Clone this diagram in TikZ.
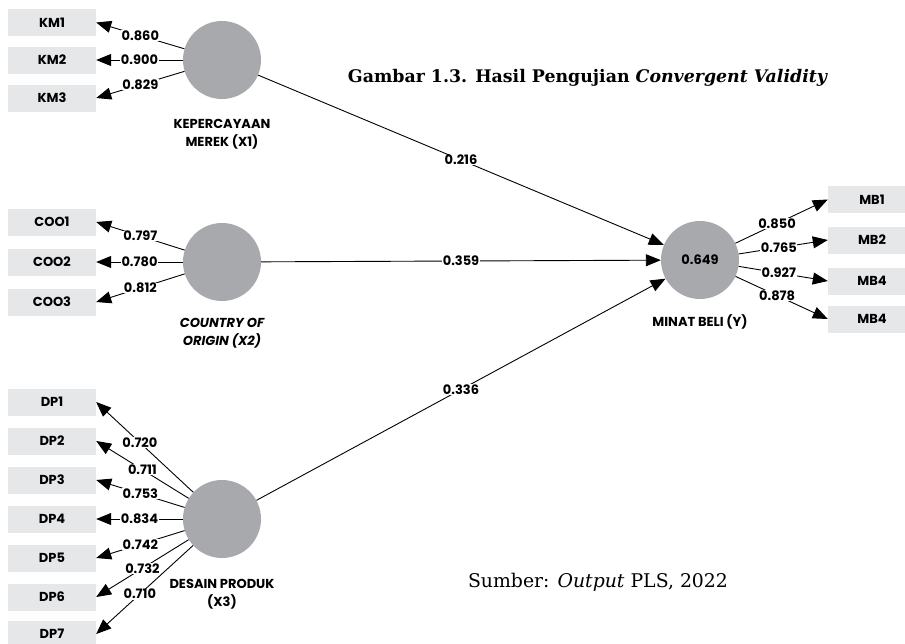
\documentclass[tikz,border=0pt]{standalone}
\usepackage{fontspec}
\usepackage{graphicx}
\setmainfont{DejaVu Serif}
\newfontfamily\lblfont{Poppins}
\usetikzlibrary{arrows.meta}
\definecolor{boxgray}{HTML}{E6E7E8}
\definecolor{circgray}{HTML}{A7A9AC}
\begin{document}
\begin{tikzpicture}[x=1pt,y=-1pt,
  ind/.style={rectangle, fill=boxgray, minimum width=88pt, minimum height=27pt, inner sep=0pt, font=\lblfont\bfseries\fontsize{13}{15}\selectfont},
  lat/.style={circle, fill=circgray, minimum size=78pt, inner sep=0pt, font=\lblfont\bfseries\fontsize{13}{15}\selectfont},
  ld/.style={fill=white, inner sep=0.5pt, font=\lblfont\bfseries\fontsize{13}{15}\selectfont},
  captxt/.style={align=center, font=\lblfont\bfseries\fontsize{13}{18}\selectfont},
  arr/.style={draw, line width=0.9pt, -{Triangle[length=15pt,width=12pt]}}]
\useasboundingbox (0,0) rectangle (905,643);
\clip (0,0) rectangle (905,643);
\fill[white] (0,0) rectangle (905,643);
% latent variables
\node[lat] (KM) at (222,60) {};
\node[lat] (COO) at (222,262) {};
\node[lat] (DP) at (222,519) {};
\node[lat] (MB) at (700,260) {0.649};
% captions
\node[captxt] (capKM) at (222,134) {KEPERCAYAAN\\MEREK (X1)};
\node[captxt] (capCOO) at (222,333) {\itshape COUNTRY OF\\\itshape ORIGIN (X2)};
\node[captxt] (capDP) at (222,594) {DESAIN PRODUK\\(X3)};
\node[captxt] (capMB) at (700,322) {MINAT BELI (Y)};
% indicators
\node[ind] (KM1) at (52,22.5) {KM1};
\node[ind] (KM2) at (52,60) {KM2};
\node[ind] (KM3) at (52,98) {KM3};
\node[ind] (COO1) at (52,222) {COO1};
\node[ind] (COO2) at (52,262) {COO2};
\node[ind] (COO3) at (52,302) {COO3};
\node[ind] (DP1) at (52,402) {DP1};
\node[ind] (DP2) at (52,441) {DP2};
\node[ind] (DP3) at (52,480) {DP3};
\node[ind] (DP4) at (52,519) {DP4};
\node[ind] (DP5) at (52,558) {DP5};
\node[ind] (DP6) at (52,597) {DP6};
\node[ind] (DP7) at (52,634) {DP7};
\node[ind] (MB1) at (872,199.5) {MB1};
\node[ind] (MB2) at (872,240) {MB2};
\node[ind] (MB4a) at (872,281) {MB4};
\node[ind] (MB4b) at (872,319) {MB4};
% outer loadings
\path[arr] (KM) -- node[ld]{0.860} (KM1.east);
\path[arr] (KM) -- node[ld]{0.900} (KM2.east);
\path[arr] (KM) -- node[ld]{0.829} (KM3.east);
\path[arr] (COO) -- node[ld]{0.797} (COO1.east);
\path[arr] (COO) -- node[ld]{0.780} (COO2.east);
\path[arr] (COO) -- node[ld]{0.812} (COO3.east);
\path[arr] (DP) -- node[ld,pos=0.55]{0.720} (DP1.east);
\path[arr] (DP) -- node[ld]{0.711} (DP2.east);
\path[arr] (DP) -- node[ld]{0.753} (DP3.east);
\path[arr] (DP) -- node[ld]{0.834} (DP4.east);
\path[arr] (DP) -- node[ld]{0.742} (DP5.east);
\path[arr] (DP) -- node[ld]{0.732} (DP6.east);
\path[arr] (DP) -- node[ld,pos=0.55]{0.710} (DP7.east);
\path[arr] (MB) -- node[ld,pos=0.45]{0.850} (MB1.west);
\path[arr] (MB) -- node[ld,pos=0.45]{0.765} (MB2.west);
\path[arr] (MB) -- node[ld,pos=0.45]{0.927} (MB4a.west);
\path[arr] (MB) -- node[ld,pos=0.45]{0.878} (MB4b.west);
% inner model
\path[arr] (KM) -- node[ld]{0.216} (MB);
\path[arr] (COO) -- node[ld]{0.359} (MB);
\path[arr] (DP) -- node[ld]{0.336} (MB);
% title and source
\node (title) at (587.5,78) {\resizebox{479pt}{!}{\bfseries Gambar 1.3. Hasil Pengujian \itshape Convergent Validity}};
\node (src) at (598,582) {\resizebox{260pt}{!}{Sumber: \itshape Output\upshape\ PLS, 2022}};
\end{tikzpicture}
\end{document}
